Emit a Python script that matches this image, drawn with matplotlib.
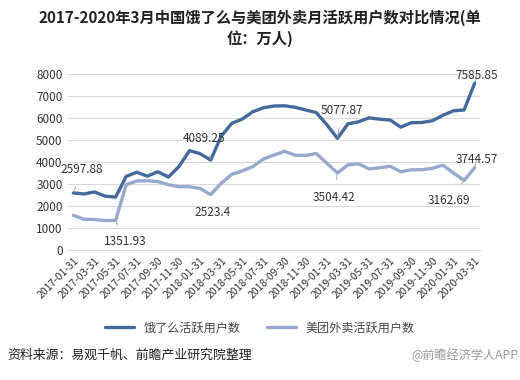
import matplotlib
matplotlib.use('Agg')
import matplotlib.pyplot as plt

plt.rcParams['font.family'] = ['Noto Sans CJK SC', 'DejaVu Sans']

# 2017-01 .. 2020-03, month-end dates
months = [f'{y}-{m:02d}' for y in (2017, 2018, 2019) for m in range(1, 13)] + ['2020-01', '2020-02', '2020-03']
month_end = {'01': 31, '02': 28, '03': 31, '04': 30, '05': 31, '06': 30,
             '07': 31, '08': 31, '09': 30, '10': 31, '11': 30, '12': 31}
dates = [f'{m}-{month_end[m[-2:]]}' for m in months]

eleme = [2597.88, 2550, 2640, 2450, 2410, 3350, 3540, 3360, 3560, 3320,
         3800, 4520, 4380, 4089.25, 5180, 5760, 5960, 6290, 6470, 6550,
         6560, 6490, 6370, 6250, 5700, 5077.87, 5740, 5830, 6010, 5950,
         5910, 5590, 5790, 5800, 5880, 6130, 6330, 6370, 7585.85]
meituan = [1575, 1400, 1390, 1340, 1351.93, 2970, 3140, 3150, 3110, 2970,
           2880, 2880, 2800, 2523.4, 3040, 3440, 3600, 3800, 4140, 4320,
           4490, 4310, 4300, 4390, 3950, 3504.42, 3870, 3920, 3690, 3740,
           3810, 3560, 3650, 3650, 3720, 3860, 3500, 3162.69, 3744.57]

dark = '#44699b'
light = '#98a9d0'

fig = plt.figure(figsize=(5.2, 3.8), dpi=100)
ax = fig.add_axes([0.131, 0.342, 0.792, 0.463])

x = list(range(len(dates)))
ax.plot(x, eleme, color=dark, lw=2.4, label='饿了么活跃用户数', solid_capstyle='round')
ax.plot(x, meituan, color=light, lw=2.4, label='美团外卖活跃用户数', solid_capstyle='round')

ax.set_xlim(-0.5, len(dates) - 0.5)
ax.set_ylim(0, 8000)
ax.set_yticks(range(0, 8001, 1000))
ax.set_yticklabels([str(v) for v in range(0, 8001, 1000)], fontsize=8.5, color='#333333')
ax.set_xticks(x[::2])
ax.set_xticklabels(dates[::2], rotation=45, ha='right', rotation_mode='anchor',
                   fontsize=7.5, color='#333333')
ax.tick_params(length=0, pad=4)
ax.grid(axis='y', color='#d9d9d9', lw=0.8)
ax.set_axisbelow(True)
for s in ('top', 'right', 'left'):
    ax.spines[s].set_visible(False)
ax.spines['bottom'].set_color('#d9d9d9')

# data labels with leader lines
labels = [
    (eleme, 0, '2597.88', (0.8, 3650)),
    (meituan, 4, '1351.93', (4.9, 400)),
    (eleme, 13, '4089.25', (12.4, 5050)),
    (meituan, 13, '2523.4', (13.2, 1700)),
    (eleme, 25, '5077.87', (25.4, 6340)),
    (meituan, 25, '3504.42', (24.7, 2410)),
    (eleme, 38, '7585.85', (38.2, 7950)),
    (meituan, 37, '3162.69', (35.6, 2255)),
    (meituan, 38, '3744.57', (38.2, 4100)),
]
for series, i, txt, (tx, ty) in labels:
    ax.annotate(txt, xy=(i, series[i]), xytext=(tx, ty), fontsize=8.5,
                color='#333333', ha='center', va='center', annotation_clip=False,
                arrowprops=dict(arrowstyle='-', color='#a6a6a6', lw=0.7,
                                shrinkA=6, shrinkB=1))

fig.text(0.5, 0.952, '2017-2020年3月中国饿了么与美团外卖月活跃用户数对比情况(单',
         ha='center', va='center', fontsize=11, fontweight='bold', color='#222222')
fig.text(0.5, 0.898, '位：万人)', ha='center', va='center', fontsize=11,
         fontweight='bold', color='#222222')

leg = fig.legend(loc='center', bbox_to_anchor=(0.5, 0.137), ncol=2, frameon=False,
                 fontsize=8.7, handlelength=2.4, columnspacing=2.2)
for t in leg.get_texts():
    t.set_color('#444444')

fig.text(0.015, 0.066, '资料来源：易观千帆、前瞻产业研究院整理', ha='left', va='center',
         fontsize=9.3, color='#222222')
fig.text(0.997, 0.066, '@前瞻经济学人APP', ha='right', va='center',
         fontsize=8.7, color='#999999')

fig.savefig('out.png', dpi=100)
